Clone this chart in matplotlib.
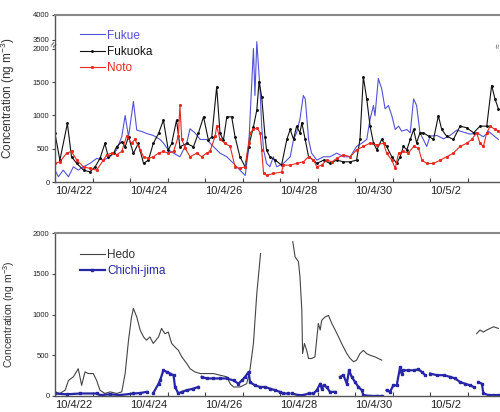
import numpy as np
import matplotlib
matplotlib.use('Agg')
import matplotlib.pyplot as plt

plt.rcParams['font.family'] = ['Liberation Sans', 'DejaVu Sans']
plt.rcParams['mathtext.default'] = 'regular'

# days since 10/4/22 00:00
date_ticks = [0, 2, 4, 6, 8, 10]
date_labels = ['10/4/22', '10/4/24', '10/4/26', '10/4/28', '10/4/30', '10/5/2']

# top panel
fukue_d = [0, 0.09, 0.22, 0.36, 0.49, 0.62, 0.76, 0.93, 1.11, 1.29,
           1.47, 1.64, 1.78, 1.87, 1.96, 2.09, 2.18, 2.31, 2.44, 2.62,
           2.8, 2.89, 3.02, 3.16, 3.33, 3.51, 3.6, 3.73, 3.87, 4.04,
           4.22, 4.4, 4.58, 4.76, 4.93, 5.07, 5.16, 5.22, 5.29, 5.33,
           5.38, 5.47, 5.51, 5.56, 5.64, 5.73, 5.82, 5.91, 6.0, 6.09,
           6.18, 6.27, 6.36, 6.44, 6.53, 6.62, 6.67, 6.71, 6.76, 6.84,
           6.98, 7.16, 7.33, 7.51, 7.69, 7.87, 8.04, 8.18, 8.31, 8.4,
           8.49, 8.53, 8.62, 8.71, 8.8, 8.89, 8.98, 9.07, 9.16, 9.24,
           9.38, 9.47, 9.56, 9.64, 9.73, 9.82, 9.91, 10.0, 10.18, 10.36,
           10.53, 10.71, 10.89, 11.07, 11.24, 11.42, 11.56, 11.69, 11.82]
fukue_v = [180, 80, 180, 80, 230, 180, 230, 280, 355, 330,
           380, 480, 680, 1000, 680, 1210, 780, 760, 730, 700,
           640, 585, 485, 435, 380, 585, 800, 740, 640, 640,
           535, 435, 380, 280, 180, 100, 485, 1200, 2050, 1300,
           3200, 1350, 840, 485, 280, 230, 380, 230, 255, 280,
           330, 380, 640, 740, 945, 1300, 1250, 995, 640, 435,
           330, 380, 380, 435, 380, 380, 535, 585, 640, 945,
           1150, 995, 1555, 1400, 1100, 1150, 995, 790, 840, 765,
           790, 740, 1250, 1150, 740, 640, 535, 690, 700, 650,
           700, 780, 750, 720, 740, 680, 760, 700, 640]

fukuoka_d = [0, 0.13, 0.33, 0.44, 0.58, 0.76, 0.93, 1.07, 1.2, 1.33,
             1.42, 1.56, 1.64, 1.78, 1.87, 1.96, 2.09, 2.22, 2.36, 2.49,
             2.62, 2.76, 2.89, 3.02, 3.11, 3.24, 3.33, 3.51, 3.69, 3.82,
             3.96, 4.09, 4.18, 4.31, 4.4, 4.49, 4.58, 4.71, 4.8, 4.93,
             5.07, 5.16, 5.29, 5.38, 5.44, 5.51, 5.6, 5.64, 5.73, 5.87,
             6.04, 6.18, 6.27, 6.36, 6.44, 6.53, 6.58, 6.67, 6.76, 6.89,
             6.98, 7.16, 7.33, 7.51, 7.69, 7.87, 8.04, 8.13, 8.22, 8.31,
             8.4, 8.49, 8.58, 8.71, 8.84, 8.98, 9.11, 9.2, 9.29, 9.38,
             9.47, 9.56, 9.64, 9.73, 9.82, 9.96, 10.09, 10.22, 10.31, 10.44,
             10.62, 10.8, 10.98, 11.16, 11.33, 11.51, 11.64, 11.73, 11.82]
fukuoka_v = [730, 330, 880, 380, 280, 180, 155, 230, 355, 580,
             380, 430, 530, 605, 530, 680, 430, 580, 280, 330,
             580, 730, 930, 480, 580, 930, 530, 580, 530, 730,
             980, 630, 680, 1430, 730, 630, 980, 980, 680, 380,
             230, 530, 830, 1080, 1510, 1280, 680, 480, 380, 330,
             255, 640, 790, 640, 840, 740, 890, 640, 380, 330,
             280, 330, 280, 330, 305, 305, 330, 640, 1580, 1250,
             840, 590, 485, 640, 535, 380, 280, 380, 535, 485,
             640, 790, 590, 740, 740, 690, 640, 995, 790, 690,
             640, 840, 815, 740, 840, 840, 1450, 1250, 1100]

noto_d = [0, 0.13, 0.31, 0.44, 0.58, 0.76, 0.93, 1.11, 1.29, 1.38,
          1.51, 1.64, 1.78, 1.91, 2.04, 2.13, 2.27, 2.36, 2.49, 2.62,
          2.76, 2.89, 3.02, 3.16, 3.29, 3.33, 3.38, 3.47, 3.6, 3.78,
          3.91, 4.04, 4.13, 4.27, 4.31, 4.4, 4.53, 4.67, 4.8, 4.93,
          5.07, 5.16, 5.2, 5.29, 5.38, 5.47, 5.51, 5.56, 5.64, 5.82,
          6.04, 6.09, 6.27, 6.44, 6.62, 6.76, 6.89, 6.98, 7.11, 7.24,
          7.38, 7.51, 7.69, 7.87, 8.04, 8.22, 8.4, 8.58, 8.76, 8.84,
          8.98, 9.07, 9.16, 9.29, 9.42, 9.56, 9.69, 9.78, 9.91, 10.09,
          10.27, 10.44, 10.62, 10.8, 10.98, 11.11, 11.24, 11.33, 11.42, 11.51,
          11.6, 11.73, 11.82]
noto_v = [280, 305, 435, 460, 330, 230, 205, 180, 330, 410,
          435, 410, 460, 690, 585, 640, 485, 380, 355, 380,
          435, 460, 435, 460, 690, 1150, 640, 510, 380, 435,
          380, 435, 460, 690, 840, 640, 585, 535, 230, 205,
          230, 585, 740, 790, 815, 740, 485, 130, 100, 130,
          150, 255, 255, 280, 305, 380, 330, 230, 255, 330,
          305, 355, 410, 380, 485, 535, 585, 560, 585, 435,
          330, 205, 435, 460, 435, 535, 510, 330, 280, 280,
          330, 380, 435, 535, 585, 640, 740, 585, 535, 740,
          840, 790, 765]

# bottom panel (nan = no data)
hedo_d = [0, 0.13, 0.27, 0.36, 0.49, 0.62, 0.71, 0.8, 0.89, 1.02,
          1.11, 1.2, 1.33, 1.47, 1.64, 1.78, 1.87, 1.96, 2.04, 2.09,
          2.18, 2.27, 2.36, 2.44, 2.53, 2.62, 2.76, 2.84, 2.93, 3.02,
          3.11, 3.2, 3.29, 3.38, 3.51, 3.6, 3.73, 3.87, 4.04, 4.22,
          4.4, 4.58, 4.67, 4.76, 4.93, 5.11, 5.2, 5.29, 5.38, 5.48,
          5.9, 6.34, 6.4, 6.49, 6.53, 6.58, 6.6, 6.65, 6.71, 6.76,
          6.84, 6.93, 7.02, 7.07, 7.11, 7.2, 7.29, 7.38, 7.47, 7.56,
          7.64, 7.78, 7.87, 7.96, 8.04, 8.13, 8.22, 8.31, 8.4, 8.53,
          8.62, 8.71, 10.0, 11.24, 11.33, 11.42, 11.51, 11.6, 11.69, 11.82]
hedo_v = [50, 30, 70, 190, 235, 335, 130, 295, 275, 275,
          190, 70, 30, 50, 30, 50, 275, 685, 970, 1075,
          970, 810, 725, 685, 725, 645, 725, 830, 765, 785,
          645, 600, 560, 480, 400, 335, 295, 275, 275, 275,
          255, 235, 150, 110, 110, 150, 330, 645, 1260, 1750,
          np.nan, 1895, 1710, 1650, 1465, 1055, 520, 645, 560, 460,
          460, 480, 890, 810, 930, 970, 990, 890, 810, 725,
          645, 520, 460, 420, 440, 520, 560, 520, 500, 480,
          460, 440, np.nan, 765, 810, 785, 810, 830, 850, 830]

chichi_d = [0, 0.31, 0.67, 1.11, 1.2, 1.47, 1.73, 2.09, 2.27, 2.44,
            2.53, 2.62, 2.76, 2.8, 2.89, 2.98, 3.07, 3.16, 3.2, 3.29,
            3.38, 3.51, 3.69, 3.82, 3.86, 3.91, 4.04, 4.22, 4.4, 4.58,
            4.76, 4.89, 4.98, 5.07, 5.16, 5.2, 5.33, 5.47, 5.6, 5.73,
            5.87, 6.0, 6.09, 6.22, 6.27, 6.31, 6.49, 6.62, 6.76, 6.89,
            6.98, 7.07, 7.11, 7.16, 7.24, 7.33, 7.47, 7.53, 7.6, 7.69,
            7.78, 7.84, 7.91, 8.0, 8.09, 8.18, 8.22, 8.4, 8.58, 8.71,
            8.78, 8.84, 8.93, 9.02, 9.11, 9.2, 9.24, 9.29, 9.42, 9.56,
            9.69, 9.78, 9.87, 9.94, 10.0, 10.18, 10.36, 10.53, 10.67, 10.8,
            10.93, 11.07, 11.16, 11.22, 11.29, 11.38, 11.42, 11.56, 11.69, 11.82]
chichi_v = [30, 20, 30, 30, 10, 20, 10, 30, 35, 50,
            np.nan, 35, 150, 190, 315, 295, 275, 255, 110, 30,
            50, 70, 90, 110, np.nan, 235, 215, 215, 215, 215,
            190, 150, 190, 235, 295, 170, 130, 110, 110, 90,
            70, 50, 30, 30, np.nan, 30, 10, 10, 30, 30,
            70, 150, 90, 130, 110, 50, 50, np.nan, 235, 255,
            150, 315, 235, 170, 110, 70, 10, 0, 0, 0,
            np.nan, 70, 50, 130, 130, 355, 275, 315, 315, 315,
            325, 295, 255, np.nan, 275, 255, 255, 235, 215, 170,
            150, 130, 110, np.nan, 170, 150, 30, 10, 10, 10]

top_yticks = [0, 500, 1000, 1500, 2000, 3500, 4000]
bot_yticks = [0, 500, 1000, 1500, 2000]


# broken y axis of the top panel: 2000-3500 squeezed
def fwd(v):
    v = np.asarray(v, dtype=float)
    return np.where(v <= 2000, v,
                    np.where(v <= 3500, 2000 + (v - 2000) * 0.09,
                             2135 + (v - 3500) * 0.752))


def inv(u):
    u = np.asarray(u, dtype=float)
    return np.where(u <= 2000, u,
                    np.where(u <= 2135, 2000 + (u - 2000) / 0.09,
                             3500 + (u - 2135) / 0.752))


fig = plt.figure(figsize=(5, 4.12), dpi=100)
ax1 = fig.add_axes([0.11, 0.558, 0.895, 0.406])
ax2 = fig.add_axes([0.11, 0.039, 0.895, 0.395])

blue = '#5252d8'
red = '#e8281e'
navy = '#2626a6'

ax1.plot(fukue_d, fukue_v, color=blue, lw=0.8, label='Fukue')
ax1.plot(fukuoka_d, fukuoka_v, color='#111111', lw=0.8, marker='o', ms=1.1, label='Fukuoka')
ax1.plot(noto_d, noto_v, color=red, lw=0.8, marker='s', ms=1.1, label='Noto')
ax1.set_yscale('function', functions=(fwd, inv))
ax1.set_ylim(0, 4000)
ax1.set_yticks(top_yticks)

ax2.plot(hedo_d, hedo_v, color='#444444', lw=0.8, label='Hedo')
ax2.plot(chichi_d, chichi_v, color=navy, lw=1.6, marker='s', ms=1.5, label='Chichi-jima')
ax2.set_ylim(0, 2000)
ax2.set_yticks(bot_yticks)

for ax in (ax1, ax2):
    ax.set_xlim(0, 11.93)
    ax.set_xticks(date_ticks, labels=date_labels, ha='left')
    ax.set_xticks(np.arange(0, 12), minor=True)
    ax.tick_params(axis='x', which='both', direction='in', length=3, width=0.8,
                   labelsize=8, pad=3, colors='#444444', labelcolor='#222222')
    ax.tick_params(axis='y', direction='out', length=2.5, width=0.8,
                   labelsize=5.5, pad=1.5, colors='#444444', labelcolor='#222222')
    for s in ax.spines.values():
        s.set_color('#555555')
        s.set_linewidth(1.0)
    ax.spines['top'].set_color('#888888')
    ax.spines['top'].set_linewidth(1.5)
    ax.spines['right'].set_visible(False)
    ax.yaxis.set_label_coords(-0.085, 0.5)

ax1.set_ylabel('Concentration (ng m$^{-3}$)', fontsize=8.5, color='#333333')
ax2.set_ylabel('Concentration (ng m$^{-3}$)', fontsize=7.5, color='#333333')

# break marks on the top panel
ax1.text(0, 2600, '≈', transform=ax1.get_yaxis_transform(), fontsize=7,
         ha='center', va='center', color='#333333', rotation=60)
ax1.text(0.99, 2600, '≈', transform=ax1.get_yaxis_transform(), fontsize=6,
         ha='center', va='center', color='#555555', rotation=90)

leg1 = ax1.legend(loc='upper left', bbox_to_anchor=(0.045, 0.94), frameon=False,
                  fontsize=8.5, handlelength=2.1, handletextpad=0.2, labelspacing=0.35,
                  borderaxespad=0)
for t, c in zip(leg1.get_texts(), [blue, '#111111', red]):
    t.set_color(c)

leg2 = ax2.legend(loc='upper left', bbox_to_anchor=(0.045, 0.93), frameon=False,
                  fontsize=8.5, handlelength=2.1, handletextpad=0.2, labelspacing=0.35,
                  borderaxespad=0)
for t, c in zip(leg2.get_texts(), ['#333333', navy]):
    t.set_color(c)

fig.savefig('out.png', dpi=100)
